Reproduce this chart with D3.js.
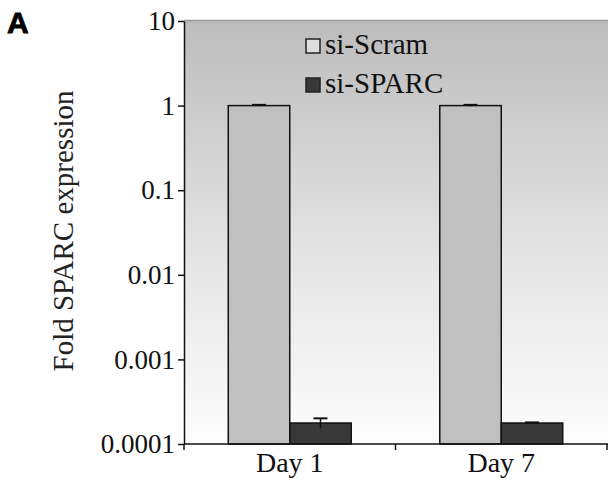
<!DOCTYPE html>
<html>
<head>
<meta charset="utf-8">
<script src="https://cdn.jsdelivr.net/npm/d3@7"></script>
<style>
  body { margin: 0; background: #fff; }
  svg { display: block; }
</style>
</head>
<body>
<div id="chart"></div>
<script>
// Data
const days = ["Day 1", "Day 7"];
const seriesNames = ["si-Scram", "si-SPARC"];
const scramValues = [1, 1];
const scramErrors = [0.02, 0.02];
const sparcValues = [0.000177, 0.000177];
const sparcErrors = [0.000024, 0.000003];
const yTicks = [0.0001, 0.001, 0.01, 0.1, 1, 10];
const yTickLabels = ["0.0001", "0.001", "0.01", "0.1", "1", "10"];

const width = 608, height = 481;
const margin = { top: 21, right: 1, bottom: 37, left: 184 };
const serif = "'Liberation Serif', 'Times New Roman', serif";

const svg = d3.select("#chart")
    .append("svg")
    .attr("width", width)
    .attr("height", height);

// Scales
const yScale = d3.scaleLog()
    .domain([0.0001, 10])
    .range([height - margin.bottom, margin.top]);

const xScale = d3.scaleBand()
    .domain(days)
    .range([margin.left, width - margin.right])
    .paddingInner(0)
    .paddingOuter(0);

const xSub = d3.scaleBand()
    .domain(seriesNames)
    .range([0, xScale.bandwidth()])
    .paddingInner(0)
    .paddingOuter(0.72);

// Background gradient of the plot area
const defs = svg.append("defs");
const grad = defs.append("linearGradient")
    .attr("id", "bg")
    .attr("x1", 0).attr("y1", 0).attr("x2", 0).attr("y2", 1);
grad.append("stop").attr("offset", "0%").attr("stop-color", "#bcbcbc");
grad.append("stop").attr("offset", "55%").attr("stop-color", "#e4e4e4");
grad.append("stop").attr("offset", "100%").attr("stop-color", "#fdfdfd");

const plotTop = yScale(10), plotBottom = yScale(0.0001);
svg.append("rect")
    .attr("x", margin.left)
    .attr("y", plotTop)
    .attr("width", width - margin.left)
    .attr("height", plotBottom - plotTop)
    .attr("fill", "url(#bg)");

// Top border of plot area
svg.append("line")
    .attr("x1", margin.left).attr("x2", width)
    .attr("y1", plotTop - 0.5).attr("y2", plotTop - 0.5)
    .attr("stroke", "#9a9a9a")
    .attr("stroke-width", 1.5);

// Bars
const rows = days.map((d, i) => ({
    day: d,
    bars: [
        { name: "si-Scram", value: scramValues[i], err: scramErrors[i], fill: "#c0c0c0" },
        { name: "si-SPARC", value: sparcValues[i], err: sparcErrors[i], fill: "#383838" }
    ]
}));

const groups = svg.selectAll(".day")
    .data(rows)
    .enter()
    .append("g")
    .attr("class", "day")
    .attr("transform", d => "translate(" + xScale(d.day) + ",0)");

groups.selectAll("rect")
    .data(d => d.bars)
    .enter()
    .append("rect")
    .attr("x", d => xSub(d.name))
    .attr("y", d => yScale(d.value))
    .attr("width", xSub.bandwidth())
    .attr("height", d => plotBottom - yScale(d.value))
    .attr("fill", d => d.fill)
    .attr("stroke", "#111")
    .attr("stroke-width", 1.5);

// Error bars
const errG = groups.selectAll(".err")
    .data(d => d.bars)
    .enter()
    .append("g")
    .attr("class", "err");

errG.append("line")
    .attr("x1", d => xSub(d.name) + xSub.bandwidth() / 2)
    .attr("x2", d => xSub(d.name) + xSub.bandwidth() / 2)
    .attr("y1", d => yScale(d.value - d.err))
    .attr("y2", d => yScale(d.value + d.err))
    .attr("stroke", "#111")
    .attr("stroke-width", 1.5);

errG.append("line")
    .attr("x1", d => xSub(d.name) + xSub.bandwidth() / 2 - 7)
    .attr("x2", d => xSub(d.name) + xSub.bandwidth() / 2 + 7)
    .attr("y1", d => yScale(d.value + d.err))
    .attr("y2", d => yScale(d.value + d.err))
    .attr("stroke", "#111")
    .attr("stroke-width", 2);

// Y axis
const yAxis = svg.append("g")
    .attr("transform", "translate(" + margin.left + ",0)")
    .call(d3.axisLeft(yScale)
        .tickValues(yTicks)
        .tickFormat((d, i) => yTickLabels[i])
        .tickSize(6)
        .tickSizeOuter(0)
        .tickPadding(3));
yAxis.select(".domain").attr("stroke", "#111").attr("stroke-width", 1.5);
yAxis.selectAll(".tick line").attr("stroke", "#111").attr("stroke-width", 1.5);
yAxis.selectAll(".tick text")
    .attr("fill", "#111")
    .style("font-family", serif)
    .style("font-size", "27px");

// X axis line and boundary ticks
svg.append("line")
    .attr("x1", margin.left).attr("x2", width)
    .attr("y1", plotBottom).attr("y2", plotBottom)
    .attr("stroke", "#111").attr("stroke-width", 1.5);

const bounds = days.map(d => xScale(d)).concat([xScale.range()[1]]);
svg.selectAll(".xtick")
    .data(bounds)
    .enter()
    .append("line")
    .attr("class", "xtick")
    .attr("x1", d => d).attr("x2", d => d)
    .attr("y1", plotBottom).attr("y2", plotBottom + 6)
    .attr("stroke", "#111").attr("stroke-width", 1.5);

svg.selectAll(".xlabel")
    .data(days)
    .enter()
    .append("text")
    .attr("class", "xlabel")
    .attr("x", d => xScale(d) + xScale.bandwidth() / 2)
    .attr("y", plotBottom + 28)
    .attr("text-anchor", "middle")
    .attr("fill", "#111")
    .style("font-family", serif)
    .style("font-size", "28px")
    .text(d => d);

// Y axis title
svg.append("text")
    .attr("transform", "translate(73,231) rotate(-90)")
    .attr("text-anchor", "middle")
    .attr("fill", "#222")
    .style("font-family", serif)
    .style("font-size", "29px")
    .text("Fold SPARC expression");

// Legend
const legendFills = ["#dedede", "#383838"];
const legend = svg.selectAll(".legend")
    .data(seriesNames)
    .enter()
    .append("g")
    .attr("class", "legend")
    .attr("transform", (d, i) => "translate(306," + (39 + i * 39) + ")");

legend.append("rect")
    .attr("width", 14)
    .attr("height", 14)
    .attr("fill", (d, i) => legendFills[i])
    .attr("stroke", "#222")
    .attr("stroke-width", 1.5);

legend.append("text")
    .attr("x", 19)
    .attr("y", 15)
    .attr("fill", "#111")
    .style("font-family", serif)
    .style("font-size", "29px")
    .text(d => d);

// Panel letter
svg.append("text")
    .attr("x", 7)
    .attr("y", 33)
    .attr("fill", "#000")
    .style("font-family", "'Liberation Sans', Arial, sans-serif")
    .style("font-weight", "900")
    .style("font-size", "30px")
    .style("stroke", "#000")
    .style("stroke-width", "0.8px")
    .text("A");
</script>
</body>
</html>
